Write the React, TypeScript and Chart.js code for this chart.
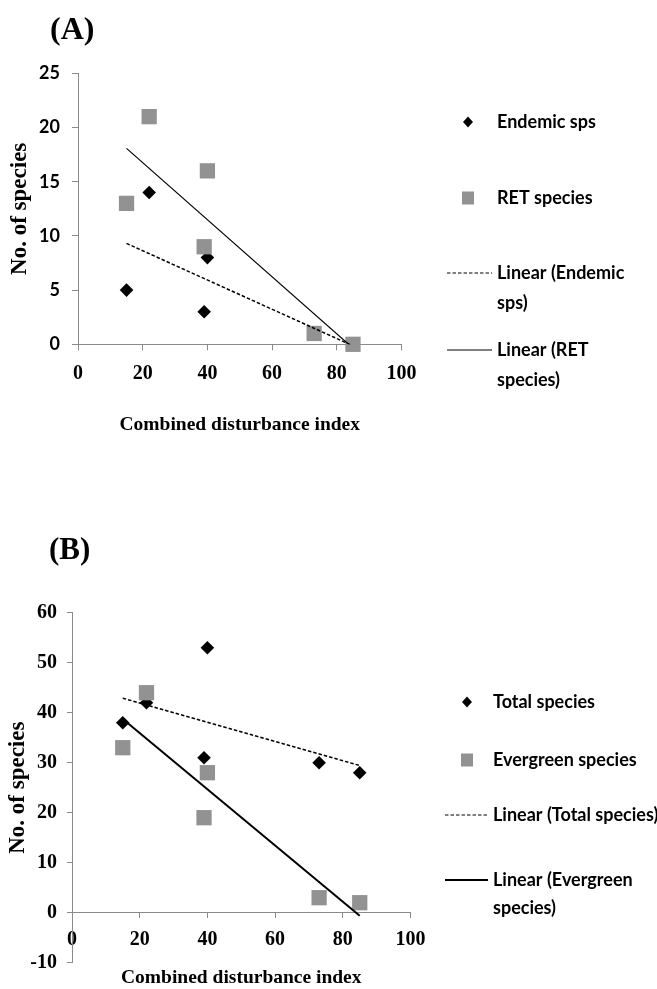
import React, { useEffect, useRef } from 'react';
import { Chart, registerables } from 'chart.js';

Chart.register(...registerables);

// ---------- data ----------
const disturbanceIndex = [15, 22, 39, 40, 73, 85];
const endemicSps = [5, 14, 3, 8, 1, 0];
const retSpecies = [13, 21, 9, 16, 1, 0];
const totalSpecies = [38, 42, 31, 53, 30, 28];
const evergreenSpecies = [33, 44, 19, 28, 3, 2];

const panelALabels = ['Endemic sps', 'RET species', 'Linear (Endemic sps)', 'Linear (RET species)'];
const panelBLabels = ['Total species', 'Evergreen species', 'Linear (Total species)', 'Linear (Evergreen species)'];

const xRange = [0, 100, 20]; // min, max, step
const yRangeA = [0, 25, 5];
const yRangeB = [-10, 60, 10];

const xTitle = 'Combined disturbance index';
const yTitle = 'No. of species';

// ---------- styles ----------
const GRAY = '#929292';
const AXIS = '#8a8a8a';
const SERIF = '"Liberation Serif", "Times New Roman", serif';
const SANS = 'Lato, "Open Sans", sans-serif';

type Pt = { x: number; y: number };

function points(xs: number[], ys: number[]): Pt[] {
  return xs.map((x, i) => ({ x, y: ys[i] }));
}

// ordinary least squares trendline spanning the data's x-range
function linearFit(xs: number[], ys: number[]): Pt[] {
  const n = xs.length;
  const mx = xs.reduce((a, b) => a + b, 0) / n;
  const my = ys.reduce((a, b) => a + b, 0) / n;
  let sxy = 0;
  let sxx = 0;
  for (let i = 0; i < n; i++) {
    sxy += (xs[i] - mx) * (ys[i] - my);
    sxx += (xs[i] - mx) * (xs[i] - mx);
  }
  const slope = sxy / sxx;
  const icpt = my - slope * mx;
  const x0 = Math.min(...xs);
  const x1 = Math.max(...xs);
  return [
    { x: x0, y: icpt + slope * x0 },
    { x: x1, y: icpt + slope * x1 },
  ];
}

function wrapText(ctx: CanvasRenderingContext2D, text: string, maxWidth: number): string[] {
  const words = text.split(' ');
  const lines: string[] = [];
  let cur = '';
  for (const w of words) {
    const test = cur ? cur + ' ' + w : w;
    if (cur && ctx.measureText(test).width > maxWidth) {
      lines.push(cur);
      cur = w;
    } else {
      cur = test;
    }
  }
  if (cur) lines.push(cur);
  return lines;
}

const decorPlugin = {
  id: 'panelDecor',
  afterDraw(chart: any, _args: any, o: any) {
    const ctx: CanvasRenderingContext2D = chart.ctx;
    ctx.save();
    ctx.fillStyle = '#000';
    ctx.textAlign = 'left';
    ctx.textBaseline = 'middle';
    ctx.font = `bold ${o.labelSize}px ${SERIF}`;
    ctx.fillText(o.panelLabel, o.labelX, o.labelY);

    ctx.font = `bold ${o.legendSize}px ${SANS}`;
    chart.data.datasets.forEach((ds: any, i: number) => {
      const y = o.rowYs[i];
      if (ds.showLine) {
        ctx.strokeStyle = ds.borderColor;
        ctx.lineWidth = o.legendLineWidths[i];
        ctx.setLineDash(ds.borderDash || []);
        ctx.beginPath();
        ctx.moveTo(o.lineX0, y);
        ctx.lineTo(o.lineX1, y);
        ctx.stroke();
        ctx.setLineDash([]);
      } else if (ds.pointStyle === 'rectRot') {
        const h = o.diamondHalf;
        ctx.fillStyle = ds.backgroundColor;
        ctx.beginPath();
        ctx.moveTo(o.markerX - h, y);
        ctx.lineTo(o.markerX, y - h * 1.1);
        ctx.lineTo(o.markerX + h, y);
        ctx.lineTo(o.markerX, y + h * 1.1);
        ctx.closePath();
        ctx.fill();
      } else {
        const s = o.squareSize;
        ctx.fillStyle = ds.backgroundColor;
        ctx.fillRect(o.markerX - s / 2, y - s / 2 - 0.5, s, s + 1);
      }
      ctx.fillStyle = '#000';
      const lines = wrapText(ctx, ds.label, o.maxWidth);
      lines.forEach((ln, k) => ctx.fillText(ln, o.textX, y + k * o.lineGap));
    });
    ctx.restore();
  },
};

function baseDatasets(labels: string[], s1: number[], s2: number[], w1: number, w2: number) {
  return [
    {
      label: labels[0],
      data: points(disturbanceIndex, s1),
      pointStyle: 'rectRot',
      pointRadius: 6.8,
      backgroundColor: '#000',
      borderColor: '#000',
      borderWidth: 0,
      order: 3,
      clip: false,
    },
    {
      label: labels[1],
      data: points(disturbanceIndex, s2),
      pointStyle: 'rect',
      pointRadius: 10.8,
      backgroundColor: GRAY,
      borderColor: GRAY,
      borderWidth: 0,
      order: 2,
      clip: false,
    },
    {
      label: labels[2],
      data: linearFit(disturbanceIndex, s1),
      showLine: true,
      borderColor: '#000',
      borderWidth: w1,
      borderDash: [3.5, 2],
      pointRadius: 0,
      order: 1,
    },
    {
      label: labels[3],
      data: linearFit(disturbanceIndex, s2),
      showLine: true,
      borderColor: '#000',
      borderWidth: w2,
      pointRadius: 0,
      order: 1,
    },
  ];
}

function axisCommon() {
  return {
    grid: { drawOnChartArea: false, drawTicks: true, color: AXIS, lineWidth: 1 },
    border: { display: true, color: AXIS, width: 1 },
  };
}

function configA(): any {
  const ac = axisCommon();
  return {
    type: 'scatter',
    data: { datasets: baseDatasets(panelALabels, endemicSps, retSpecies, 1.5, 1.2) },
    options: {
      animation: false,
      responsive: false,
      events: [],
      layout: { padding: { left: 2, top: 73.3, right: 255.5, bottom: 39.3 } },
      plugins: {
        legend: { display: false },
        tooltip: { enabled: false },
        panelDecor: {
          panelLabel: '(A)',
          labelX: 50,
          labelY: 31,
          labelSize: 32,
          legendSize: 18,
          rowYs: [122, 198, 273, 350],
          markerX: 468,
          textX: 497,
          lineX0: 447,
          lineX1: 492,
          legendLineWidths: [0, 0, 1, 1],
          diamondHalf: 5,
          squareSize: 12,
          maxWidth: 150,
          lineGap: 30,
        },
      },
      scales: {
        x: {
          type: 'linear',
          position: 'bottom',
          min: xRange[0],
          max: xRange[1],
          ticks: {
            stepSize: xRange[2],
            color: '#000',
            padding: 12,
            font: { family: SERIF, size: 20, weight: 'bold' },
          },
          grid: { ...ac.grid, tickLength: 6 },
          border: ac.border,
          title: {
            display: true,
            text: xTitle,
            color: '#000',
            padding: { top: 4, bottom: 4 },
            font: { family: SERIF, size: 19.5, weight: 'bold' },
          },
          afterFit: (s: any) => {
            s.height = 96.4;
          },
        },
        y: {
          type: 'linear',
          position: 'left',
          min: yRangeA[0],
          max: yRangeA[1],
          ticks: {
            stepSize: yRangeA[2],
            color: '#000',
            padding: 12,
            font: { family: SANS, size: 18, weight: 'bold' },
          },
          grid: { ...ac.grid, tickLength: 6 },
          border: ac.border,
          title: {
            display: true,
            text: yTitle,
            color: '#000',
            padding: { top: 4, bottom: 4 },
            font: { family: SERIF, size: 23, weight: 'bold' },
          },
          afterFit: (s: any) => {
            s.width = 76;
          },
        },
      },
    },
    plugins: [decorPlugin],
  };
}

function configB(): any {
  const ac = axisCommon();
  return {
    type: 'scatter',
    data: { datasets: baseDatasets(panelBLabels, totalSpecies, evergreenSpecies, 1.5, 2) },
    options: {
      animation: false,
      responsive: false,
      events: [],
      layout: { padding: { left: 0, top: 132.7, right: 246.5, bottom: 26.3 } },
      plugins: {
        legend: { display: false },
        tooltip: { enabled: false },
        panelDecor: {
          panelLabel: '(B)',
          labelX: 49,
          labelY: 71,
          labelSize: 31,
          legendSize: 18,
          rowYs: [222, 280, 335, 400],
          markerX: 467,
          textX: 493,
          lineX0: 445,
          lineX1: 488,
          legendLineWidths: [0, 0, 1, 2],
          diamondHalf: 5,
          squareSize: 12,
          maxWidth: 176,
          lineGap: 28,
        },
      },
      scales: {
        x: {
          type: 'linear',
          position: { y: 0 },
          min: xRange[0],
          max: xRange[1],
          ticks: {
            stepSize: xRange[2],
            color: '#000',
            padding: 10,
            font: { family: SERIF, size: 20, weight: 'bold' },
          },
          grid: { ...ac.grid, tickLength: 5 },
          border: ac.border,
          title: {
            display: true,
            text: xTitle,
            color: '#000',
            padding: { top: 4, bottom: 4 },
            font: { family: SERIF, size: 19.5, weight: 'bold' },
          },
          afterFit: (s: any) => {
            s.height = 81.4;
          },
        },
        y: {
          type: 'linear',
          position: 'left',
          min: yRangeB[0],
          max: yRangeB[1],
          ticks: {
            stepSize: yRangeB[2],
            color: '#000',
            padding: 10,
            font: { family: SERIF, size: 20, weight: 'bold' },
          },
          grid: { ...ac.grid, tickLength: 5 },
          border: ac.border,
          title: {
            display: true,
            text: yTitle,
            color: '#000',
            padding: { top: 4, bottom: 4 },
            font: { family: SERIF, size: 23, weight: 'bold' },
          },
          afterFit: (s: any) => {
            s.width = 72;
          },
        },
      },
    },
    plugins: [decorPlugin],
  };
}

export default function App() {
  const refA = useRef<HTMLCanvasElement>(null);
  const refB = useRef<HTMLCanvasElement>(null);

  useEffect(() => {
    const a = new Chart(refA.current as HTMLCanvasElement, configA());
    const b = new Chart(refB.current as HTMLCanvasElement, configB());
    return () => {
      a.destroy();
      b.destroy();
    };
  }, []);

  return (
    <div style={{ position: 'absolute', left: 0, top: 0, width: 657, height: 989, background: '#fff' }}>
      <canvas ref={refA} width={657} height={480} style={{ position: 'absolute', left: 0, top: 0 }} />
      <canvas ref={refB} width={657} height={509} style={{ position: 'absolute', left: 0, top: 480 }} />
    </div>
  );
}
